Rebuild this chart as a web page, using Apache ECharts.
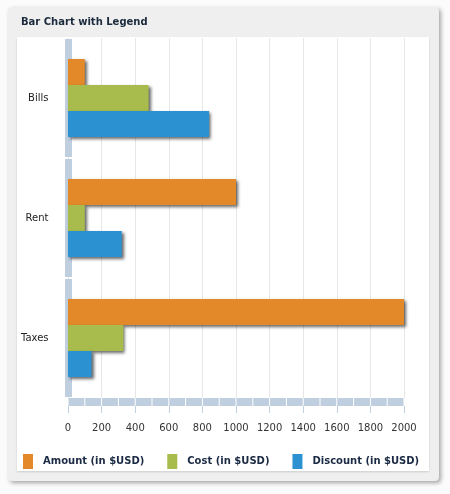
<!DOCTYPE html>
<html>
<head>
<meta charset="utf-8">
<script src="https://cdn.jsdelivr.net/npm/echarts@6/dist/echarts.min.js"></script>
<style>
  html, body { margin: 0; padding: 0; background: #fbfbfb; }
  #chart { width: 450px; height: 494px; }
</style>
</head>
<body>
<div id="chart"></div>
<script>
const categories = ["Bills", "Rent", "Taxes"];
const seriesNames = ["Amount (in $USD)", "Cost (in $USD)", "Discount (in $USD)"];
const amountValues = [100, 1000, 2000];
const costValues = [480, 100, 330];
const discountValues = [840, 320, 140];
const xTicks = { min: 0, max: 2000, interval: 200 };

const colors = ["#e4892a", "#a7bc4c", "#2b91d1"];
const font = "DejaVu Sans";

const chartDom = document.getElementById("chart");
const myChart = echarts.init(chartDom);

const barShadow = {
  shadowColor: "rgba(0, 0, 0, 0.6)",
  shadowBlur: 3,
  shadowOffsetX: 2,
  shadowOffsetY: 2,
};

const mkSeries = (name, data, i) => ({
  name: name,
  type: "bar",
  data: data,
  xAxisIndex: 0,
  yAxisIndex: 0,
  barGap: "0%",
  barCategoryGap: "35%",
  itemStyle: Object.assign({ color: colors[i] }, barShadow),
});

const option = {
  animation: false,
  backgroundColor: "#fbfbfb",
  color: colors,
  title: {
    text: "Bar Chart with Legend",
    left: 16,
    top: 12,
    textStyle: { fontFamily: font, fontSize: 10, fontWeight: "bold", color: "#1b2a3c" },
  },
  graphic: [
    {
      type: "rect",
      z: -100,
      shape: { x: 8, y: 7, width: 431, height: 474, r: 4 },
      style: { fill: "#efefef", shadowColor: "rgba(0,0,0,0.35)", shadowBlur: 4, shadowOffsetX: 2, shadowOffsetY: 2 },
    },
    {
      type: "rect",
      z: -99,
      shape: { x: 17, y: 37, width: 412, height: 434 },
      style: { fill: "#ffffff", shadowColor: "rgba(0,0,0,0.15)", shadowBlur: 2, shadowOffsetY: 1 },
    },
  ],
  legend: {
    data: seriesNames,
    left: 18,
    top: 449,
    icon: "rect",
    itemWidth: 10,
    itemHeight: 15,
    itemGap: 23,
    textStyle: { fontFamily: font, fontSize: 10, fontWeight: "bold", color: "#1b2a44", padding: [0, 0, 0, 5] },
  },
  grid: { left: 68, right: 46, top: 38, bottom: 96 },
  xAxis: [
    {
      type: "value",
      min: xTicks.min,
      max: xTicks.max,
      interval: xTicks.interval,
      offset: 4,
      axisLine: {
        show: true,
        lineStyle: { color: "#bfcfdf", width: 8, cap: "butt", type: [15.8, 1], dashOffset: 16.3 },
      },
      axisTick: { show: false },
      axisLabel: { show: false },
      splitLine: { show: true, lineStyle: { color: "#e6e6e6", width: 1 } },
    },
    {
      type: "value",
      min: xTicks.min,
      max: xTicks.max,
      interval: xTicks.interval,
      position: "bottom",
      offset: 8,
      axisLine: { show: false },
      axisTick: { show: true, length: 7, lineStyle: { color: "#bfcfdf", width: 1 } },
      axisLabel: {
        fontFamily: font,
        fontSize: 10,
        color: "#333",
        margin: 17,
        formatter: (v) => String(v),
      },
      splitLine: { show: false },
    },
  ],
  yAxis: {
    type: "category",
    data: categories,
    inverse: true,
    offset: 3.5,
    axisLine: {
      show: true,
      lineStyle: { color: "#bfcfdf", width: 7, cap: "butt", type: [118, 2], dashOffset: 119 },
    },
    axisTick: { show: false },
    axisLabel: { fontFamily: font, fontSize: 10, color: "#222", margin: 16 },
    splitLine: { show: false },
  },
  series: [
    mkSeries(seriesNames[0], amountValues, 0),
    mkSeries(seriesNames[1], costValues, 1),
    mkSeries(seriesNames[2], discountValues, 2),
  ],
};

option && myChart.setOption(option);
</script>
</body>
</html>
